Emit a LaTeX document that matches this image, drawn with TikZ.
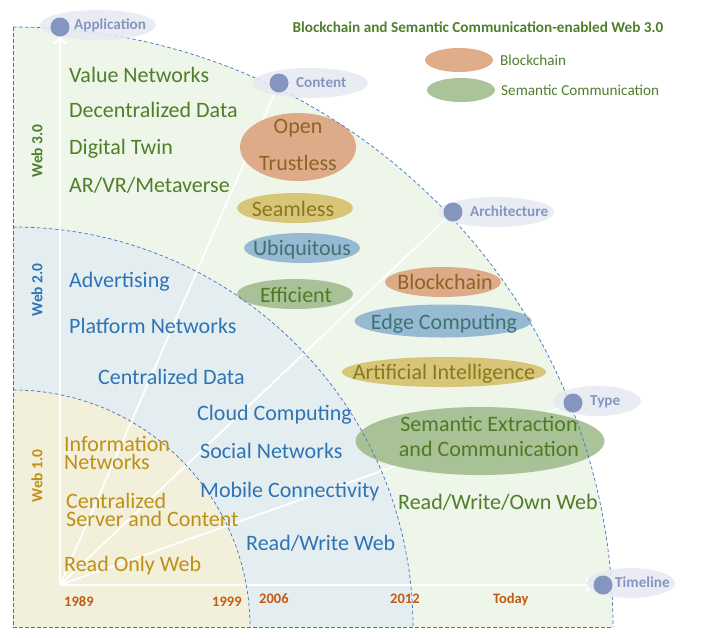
\documentclass[tikz,border=0pt]{standalone}
\usepackage{fontspec}
\setmainfont{Carlito}
\usetikzlibrary{arrows.meta,shapes.geometric}
\definecolor{gfill}{HTML}{EEF5E9}
\definecolor{bfill}{HTML}{E4EEF1}
\definecolor{yfill}{HTML}{F2EFDB}
\definecolor{dashc}{HTML}{4472C4}
\definecolor{lblbg}{HTML}{E6E9F1}
\definecolor{dotc}{HTML}{8496C0}
\definecolor{cg}{HTML}{4F7F2A}
\definecolor{cb}{HTML}{2E74B5}
\definecolor{cy}{HTML}{BF9016}
\definecolor{yrc}{HTML}{C55A11}
\definecolor{eor}{HTML}{DDA47E}
\definecolor{eye}{HTML}{D6C06C}
\definecolor{ebl}{HTML}{8EB4D1}
\definecolor{egr}{HTML}{A2BC8D}
\definecolor{tor}{HTML}{8D6428}
\definecolor{tye}{HTML}{857A1E}
\definecolor{tbl}{HTML}{3D7272}
\definecolor{tgr}{HTML}{4F7A25}
\begin{document}
\begin{tikzpicture}[x=1pt,y=-1pt,
 dline/.style={draw=dashc, line width=0.7pt, dash pattern=on 3.5pt off 2.5pt},
 axisline/.style={draw=white, line width=2.6pt},
 rayline/.style={draw=white, line width=1.8pt},
 lblell/.style={ellipse, fill=lblbg, fill opacity=0.85, draw=none, inner sep=0, minimum width=116pt, minimum height=30pt},
 dotn/.style={circle, fill=dotc, inner sep=0, minimum size=19pt},
 lbltxt/.style={font=\bfseries\fontsize{15.2}{15.2}\selectfont, text=dotc, anchor=west, inner sep=0},
 blob/.style={ellipse, inner sep=0, fill opacity=0.9, draw=none},
 itm/.style={font=\fontsize{22}{18}\selectfont, anchor=base west, inner sep=0},
 ctr/.style={font=\fontsize{22}{22}\selectfont, anchor=base, inner sep=0},
 yr/.style={font=\bfseries\fontsize{14.5}{14.5}\selectfont, text=yrc, anchor=base west, inner sep=0},
 vlab/.style={font=\bfseries\fontsize{15.5}{15.5}\selectfont, rotate=90, inner sep=0},
 legtxt/.style={font=\fontsize{15.2}{15.2}\selectfont, text=cg, anchor=west, inner sep=0}
]
\useasboundingbox (0,0) rectangle (711,641);
% regions
\fill[gfill] (13,627) -- (13,27) arc[start angle=-90,end angle=0,radius=600] -- cycle;
\fill[bfill] (13,627) -- (13,227) arc[start angle=-90,end angle=0,radius=400] -- cycle;
\fill[yfill] (13,627) -- (13,390) arc[start angle=-90,end angle=0,radius=237] -- cycle;
% key points
\coordinate (O) at (60,585);
\coordinate (appC) at (60,27);
\coordinate (conC) at (279,83);
\coordinate (arcC) at (453,212);
\coordinate (typC) at (573,403);
\coordinate (timC) at (603,585);
% axes and rays
\draw[axisline,-{Straight Barb[length=5pt,width=12pt]},shorten >=10pt] (O) -- (appC);
\draw[axisline,-{Straight Barb[length=5pt,width=12pt]},shorten >=10pt] (O) -- (timC);
\draw[rayline] (O) -- (conC);
\draw[rayline] (O) -- (arcC);
\draw[rayline] (O) -- (typC);
% ellipses
\node[blob, fill=eor, minimum width=116pt, minimum height=68pt] (open) at (298,147) {};
\node[blob, fill=eye, minimum width=116pt, minimum height=30pt] (seam) at (295,208) {};
\node[blob, fill=ebl, minimum width=116pt, minimum height=30pt] (ubiq) at (302,248) {};
\node[blob, fill=egr, minimum width=116pt, minimum height=30pt] (effi) at (295,294) {};
\node[blob, fill=eor, minimum width=116pt, minimum height=30pt] (bloc) at (443,282) {};
\node[blob, fill=ebl, minimum width=177pt, minimum height=33pt] (edge) at (443,321) {};
\node[blob, fill=eye, minimum width=204pt, minimum height=30pt] (arti) at (444,372) {};
\node[blob, fill=egr, minimum width=249pt, minimum height=68pt] (sema) at (480,441) {};
% dashed boundaries
\draw[dline] (13,27) arc[start angle=-90,end angle=0,radius=600];
\draw[dline] (13,227) arc[start angle=-90,end angle=0,radius=400];
\draw[dline] (13,390) arc[start angle=-90,end angle=0,radius=237];
\draw[dline] (13,27) -- (13,627) -- (613,627);
% label nodes
\node[lblell] (appE) at (98,25) {};
\node[lblell] (conE) at (310,83) {};
\node[lblell] (arcE) at (496,212) {};
\node[lblell, minimum width=88pt] (typE) at (597,401) {};
\node[lblell, minimum width=88pt] (timE) at (631,583) {};
\node[dotn] (appD) at (appC) {};
\node[dotn] (conD) at (conC) {};
\node[dotn] (arcD) at (arcC) {};
\node[dotn] (typD) at (typC) {};
\node[dotn] (timD) at (timC) {};
\node[lbltxt] (appT) at (74,25) {Application};
\node[lbltxt] (conT) at (296,83) {Content};
\node[lbltxt] (arcT) at (470,211) {Architecture};
\node[lbltxt] (typT) at (590,402) {Type};
\node[lbltxt] (timT) at (615,582) {Timeline};
% title and legend
\node[font=\bfseries\fontsize{15.2}{15.2}\selectfont, text=cg] (title) at (478,27) {Blockchain and Semantic Communication-enabled Web 3.0};
\node[blob, fill=eor, minimum width=68pt, minimum height=24pt] (legB) at (459,60) {};
\node[blob, fill=egr, minimum width=68pt, minimum height=24pt] (legS) at (461,90) {};
\node[legtxt] (legBT) at (500,60) {Blockchain};
\node[legtxt] (legST) at (501,90) {Semantic Communication};
% vertical labels
\node[vlab, text=cg] (w3) at (37,151) {Web 3.0};
\node[vlab, text=cb] (w2) at (37,290) {Web 2.0};
\node[vlab, text=cy] (w1) at (37,476) {Web 1.0};
% web 3.0 items
\node[itm, text=cg] (t31) at (69,82) {Value Networks};
\node[itm, text=cg] (t32) at (69,117) {Decentralized Data};
\node[itm, text=cg] (t33) at (69,154) {Digital Twin};
\node[itm, text=cg] (t34) at (69,192) {AR/VR/Metaverse};
\node[itm, text=cg] (t35) at (398,509) {Read/Write/Own Web};
% web 2.0 items
\node[itm, text=cb] (t21) at (69,287) {Advertising};
\node[itm, text=cb] (t22) at (69,333) {Platform Networks};
\node[itm, text=cb] (t23) at (98,384) {Centralized Data};
\node[itm, text=cb] (t24) at (197,420) {Cloud Computing};
\node[itm, text=cb] (t25) at (200,458) {Social Networks};
\node[itm, text=cb] (t26) at (200,497) {Mobile Connectivity};
\node[itm, text=cb] (t27) at (246,550) {Read/Write Web};
% web 1.0 items
\node[itm, text=cy, align=left] (t11) at (64,469) {Information\\Networks};
\node[itm, text=cy, align=left] (t13) at (66,526) {Centralized\\Server and Content};
\node[itm, text=cy] (t15) at (64,571) {Read Only Web};
% ellipse texts
\node[ctr, text=tor] (openT1) at (298,133) {Open};
\node[ctr, text=tor] (openT2) at (298,170) {Trustless};
\node[ctr, text=tye] (seamT) at (293,216) {Seamless};
\node[ctr, text=tbl] (ubiqT) at (302,255) {Ubiquitous};
\node[ctr, text=tgr] (effiT) at (296,302) {Efficient};
\node[ctr, text=tor] (blocT) at (445,289) {Blockchain};
\node[ctr, text=tbl] (edgeT) at (444,329) {Edge Computing};
\node[ctr, text=tye] (artiT) at (444,379) {Artificial Intelligence};
\node[ctr, text=tgr] (semaT1) at (489,431) {Semantic Extraction};
\node[ctr, text=tgr] (semaT2) at (489,456) {and Communication};
% years
\node[yr] (y1) at (64,606) {1989};
\node[yr] (y2) at (212,606) {1999};
\node[yr] (y3) at (259,603) {2006};
\node[yr] (y4) at (390,603) {2012};
\node[yr] (y5) at (493,603) {Today};
\end{tikzpicture}
\end{document}
